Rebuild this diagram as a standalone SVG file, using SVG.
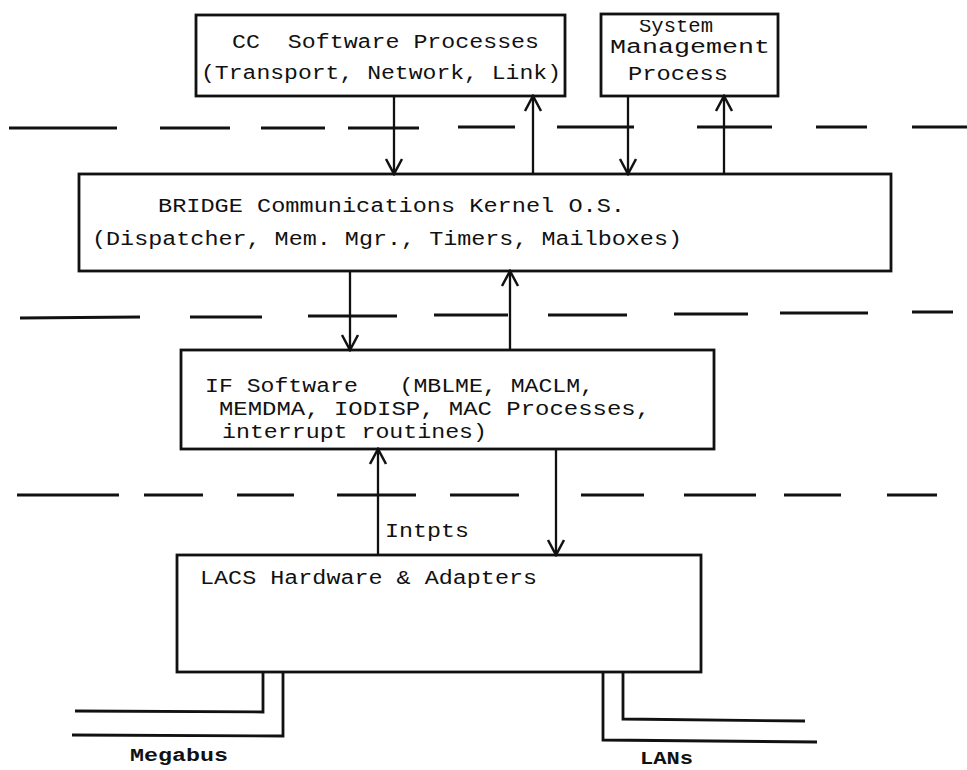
<svg xmlns="http://www.w3.org/2000/svg" width="967" height="770" viewBox="0 0 967 770">
  <style>
    .box { fill: none; stroke: #111; stroke-width: 2.8; stroke-linejoin: miter; }
    .ln { fill: none; stroke: #111; stroke-width: 2.3; }
    .sep { fill: none; stroke: #111; stroke-width: 3.2; }
    .bus { fill: none; stroke: #111; stroke-width: 2.8; }
    text { font-family: "Liberation Mono", "DejaVu Sans Mono", monospace; font-size: 20px; fill: #111; white-space: pre; }
    .lbl { font-weight: bold; font-size: 19px; }
  </style>
  <defs>
    <marker id="vhead" markerUnits="userSpaceOnUse" viewBox="-18 -10 20 20" refX="0" refY="0" markerWidth="20" markerHeight="20" orient="auto">
      <path d="M-15,-8 L0,0 L-15,8" fill="none" stroke="#111" stroke-width="2.5"/>
    </marker>
    <clipPath id="cutTop">
      <rect x="600" y="20" width="180" height="16"/>
    </clipPath>
  </defs>

  <rect x="0" y="0" width="967" height="770" fill="#fff"/>

  <!-- layer separators -->
  <g id="layers">
    <path class="sep" d="M9,128H117 M160,128H230 M261,128H325 M348,128H419 M458,127H515 M557,127H634 M697,127H772 M816,127H867 M912,127H967"/>
    <path class="sep" d="M20,318L140,317 M190,317H262 M308,316H397 M434,315H508 M548,315H627 M674,314H748 M780,313H868 M912,312H953"/>
    <path class="sep" d="M17,495H119 M144,495H203 M237,495H294 M337,495H416 M450,495H519 M581,495H644 M684,495H756 M784,495H841 M887,495H937"/>
  </g>

  <!-- CC software processes -->
  <g id="cc-software">
    <rect class="box" x="196" y="15" width="369" height="81"/>
    <text x="232" y="48" xml:space="preserve" textLength="307" lengthAdjust="spacingAndGlyphs">CC  Software Processes</text>
    <text x="201" y="79" textLength="360" lengthAdjust="spacingAndGlyphs">(Transport, Network, Link)</text>
  </g>

  <!-- system management process -->
  <g id="system-management">
    <rect class="box" x="601" y="14" width="177" height="82"/>
    <text x="639" y="32" font-size="15" textLength="74" lengthAdjust="spacingAndGlyphs" clip-path="url(#cutTop)">System</text>
    <text x="610" y="53" textLength="160" lengthAdjust="spacingAndGlyphs">Management</text>
    <text x="628" y="80" textLength="100" lengthAdjust="spacingAndGlyphs">Process</text>
  </g>

  <!-- kernel -->
  <g id="bridge-kernel">
    <rect class="box" x="79" y="174" width="812" height="97"/>
    <text x="158" y="212" textLength="467" lengthAdjust="spacingAndGlyphs">BRIDGE Communications Kernel O.S.</text>
    <text x="92" y="245" textLength="590" lengthAdjust="spacingAndGlyphs">(Dispatcher, Mem. Mgr., Timers, Mailboxes)</text>
  </g>

  <!-- interface software -->
  <g id="if-software">
    <rect class="box" x="181" y="350" width="533" height="99"/>
    <text x="205" y="392" xml:space="preserve" textLength="389" lengthAdjust="spacingAndGlyphs">IF Software   (MBLME, MACLM,</text>
    <text x="219" y="415" textLength="431" lengthAdjust="spacingAndGlyphs">MEMDMA, IODISP, MAC Processes,</text>
    <text x="222" y="438" textLength="265" lengthAdjust="spacingAndGlyphs">interrupt routines)</text>
  </g>

  <!-- hardware -->
  <g id="lacs-hardware">
    <rect class="box" x="177" y="555" width="524" height="117"/>
    <text x="200" y="584" textLength="337" lengthAdjust="spacingAndGlyphs">LACS Hardware &amp; Adapters</text>
  </g>

  <!-- connectors -->
  <g id="connectors">
    <line class="ln" x1="394" y1="96" x2="394" y2="174" marker-end="url(#vhead)"/>
    <line class="ln" x1="533" y1="174" x2="533" y2="96" marker-end="url(#vhead)"/>
    <line class="ln" x1="628" y1="96" x2="628" y2="174" marker-end="url(#vhead)"/>
    <line class="ln" x1="724" y1="174" x2="724" y2="96" marker-end="url(#vhead)"/>

    <line class="ln" x1="350" y1="271" x2="350" y2="350" marker-end="url(#vhead)"/>
    <line class="ln" x1="510" y1="350" x2="510" y2="271" marker-end="url(#vhead)"/>

    <line class="ln" x1="378" y1="555" x2="378" y2="449" marker-end="url(#vhead)"/>
    <line class="ln" x1="556" y1="449" x2="556" y2="555" marker-end="url(#vhead)"/>
    <text x="385" y="537" textLength="84" lengthAdjust="spacingAndGlyphs">Intpts</text>

    <!-- Megabus -->
    <path class="bus" d="M263,672V712L75,711"/>
    <path class="bus" d="M283,672V736L72,735"/>
    <text class="lbl" x="130" y="761" textLength="98" lengthAdjust="spacingAndGlyphs">Megabus</text>

    <!-- LANs -->
    <path class="bus" d="M623,672V719L805,721"/>
    <path class="bus" d="M603,672V740L817,742"/>
    <text class="lbl" x="640" y="764" textLength="53" lengthAdjust="spacingAndGlyphs">LANs</text>
  </g>
</svg>
